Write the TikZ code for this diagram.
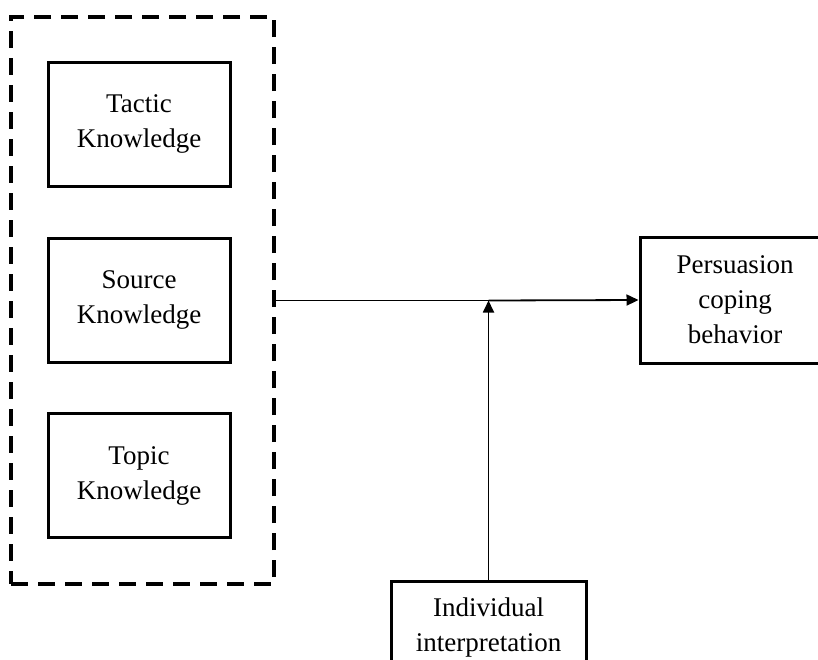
\documentclass[tikz,border=0pt]{standalone}
\usepackage{fontspec}
\setmainfont{Liberation Serif}
\usetikzlibrary{arrows.meta}
\begin{document}
\begin{tikzpicture}[x=1pt,y=-1pt,
  kbox/.style={draw=black,line width=3pt,minimum width=182pt,minimum height=124pt,align=center,inner sep=0pt,font=\fontsize{27}{35}\selectfont},
  obox/.style={draw=black,line width=3pt,align=center,inner sep=0pt,font=\fontsize{27}{35}\selectfont},
  grp/.style={draw=black,line width=3.5pt,dash pattern=on 17pt off 10pt,minimum width=263pt,minimum height=567pt,inner sep=0pt},
  conn/.style={draw=black,line width=1.8pt},
  arr/.style={conn,-{Triangle[length=12pt,width=11pt]}}]
\path[use as bounding box,clip] (0,0) rectangle (818,659);
\fill[white] (0,0) rectangle (818,659);
\node[grp] (grp) at (142.5,300.5) {};
\node[kbox] (tactic) at (139,124) {Tactic\\Knowledge};
\node[kbox] (source) at (139,300) {Source\\Knowledge};
\node[kbox] (topic) at (139,475.5) {Topic\\Knowledge};
\node[obox,minimum width=190pt,minimum height=126pt] (pers) at (735,300) {Persuasion\\coping\\behavior};
\node[obox,minimum width=195pt,minimum height=92pt] (ind) at (488.5,627) {Individual\\interpretation};
\coordinate (j) at (ind.north |- grp.east);
\draw[conn] (grp.east) -- (j);
\draw[arr] (j) -- (pers.west);
\draw[arr] (ind.north) -- (j);
\end{tikzpicture}
\end{document}
